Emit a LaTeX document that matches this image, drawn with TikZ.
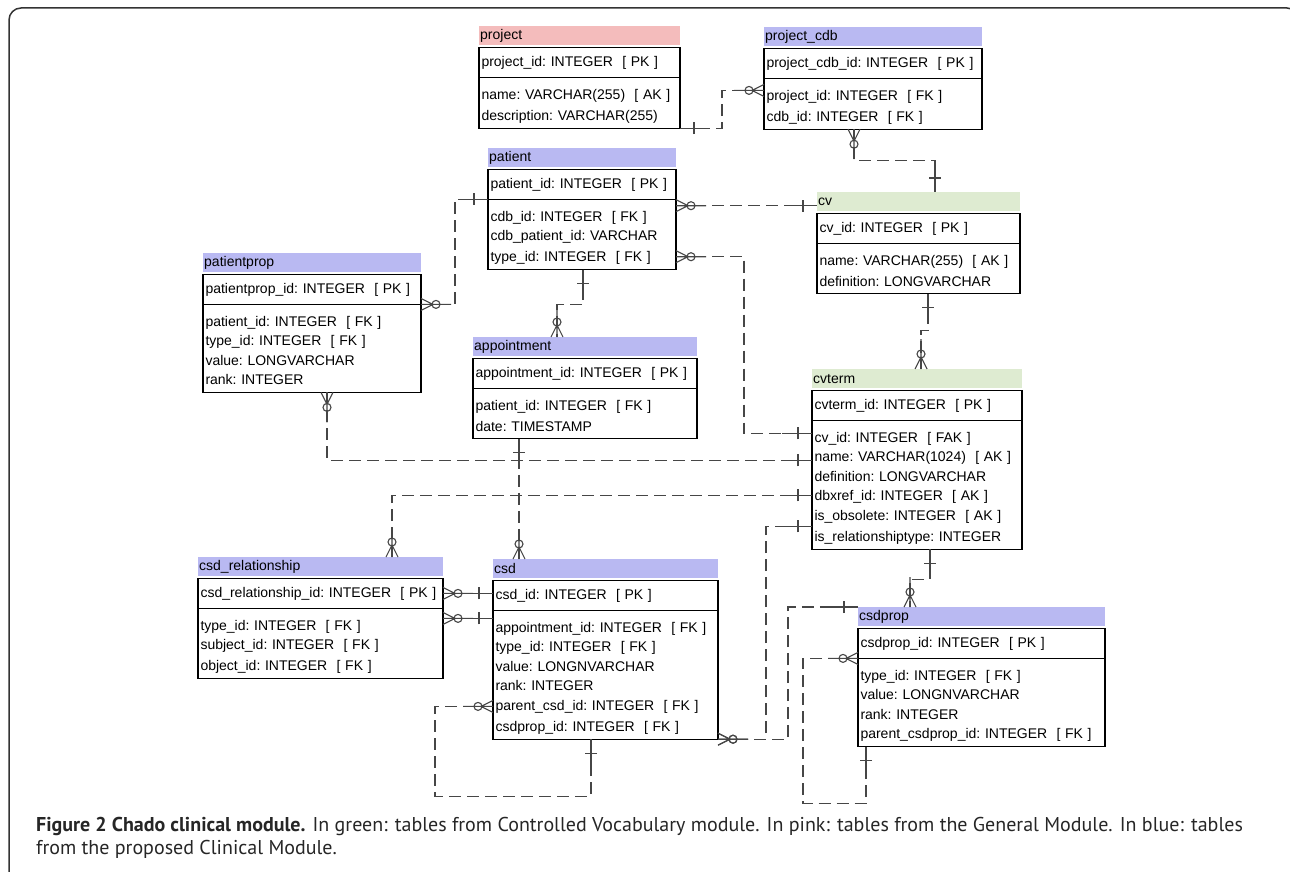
\documentclass[tikz,border=0pt]{standalone}
\usepackage{fontspec}
\usetikzlibrary{positioning,decorations.markings}
\newfontfamily\tabfont{Liberation Sans}
\newfontfamily\capfont{PT Sans}
\definecolor{tabpink}{RGB}{244,188,188}
\definecolor{tabblue}{RGB}{185,185,242}
\definecolor{tabgreen}{RGB}{222,235,209}
\definecolor{relgray}{RGB}{70,70,70}
\newcommand{\rstrut}{\rule[-2.5pt]{0pt}{19.5pt}}
\newcommand{\kPK}{\ \ [ PK ]}
\newcommand{\kFK}{\ \ [ FK ]}
\newcommand{\kAK}{\ \ [ AK ]}
\newcommand{\kFAK}{\ \ [ FAK ]}

\begin{document}
\begin{tikzpicture}[x=1pt, y=-1pt,
    every node/.style={font=\tabfont\frenchspacing\fontsize{14}{19.5}\selectfont},
    hdr/.style={anchor=north west, minimum height=19pt, inner xsep=1pt, inner ysep=0pt, align=left},
    pk/.style={draw, line width=1.1pt, anchor=north west, outer sep=0pt, minimum height=30pt, inner xsep=2.5pt, inner ysep=0pt, align=left},
    body/.style={draw, line width=1.1pt, anchor=north west, outer sep=0pt, inner xsep=2.5pt, inner ysep=5pt, align=left,
      execute at begin node=\rstrut, execute at end node=\rstrut},
    rel/.style={draw=relgray, line width=1.1pt, dash pattern=on 12pt off 6pt},
    onefrom/.style={postaction={decorate, decoration={markings, mark=at position 0 with
      {\draw[solid, line width=1.1pt, relgray] (0pt,0pt) -- (30pt,0pt) (14pt,-6pt) -- (14pt,6pt);}}}},
    manyfrom/.style={postaction={decorate, decoration={markings, mark=at position 0 with
      {\draw[solid, line width=1.1pt, relgray] (0pt,0pt) -- (30pt,0pt) (0pt,-6pt) -- (12pt,0pt) -- (0pt,6pt) (15pt,0pt) circle[radius=4pt];}}}},
    oneto/.style={postaction={decorate, decoration={markings, mark=at position 1 with
      {\draw[solid, line width=1.1pt, relgray] (-30pt,0pt) -- (0pt,0pt) (-14pt,-6pt) -- (-14pt,6pt);}}}},
    manyto/.style={postaction={decorate, decoration={markings, mark=at position 1 with
      {\draw[solid, line width=1.1pt, relgray] (-30pt,0pt) -- (0pt,0pt) (0pt,-6pt) -- (-12pt,0pt) -- (0pt,6pt) (-15pt,0pt) circle[radius=4pt];}}}}]

  \useasboundingbox (0,0) rectangle (1290,872);
  \draw[line width=1.5pt, black!80, rounded corners=12pt] (9,8) rectangle (1299,900);

  % project (general module)
  \node[hdr, fill=tabpink, text width=199pt] (project-h) at (479,26) {project};
  \node[pk, text width=196pt] (project-pk) at ([yshift=-2pt]project-h.south west) {project\_id: INTEGER\kPK};
  \node[body, text width=196pt] (project-b) at (project-pk.south west) {name: VARCHAR(255)\kAK\\description: VARCHAR(255)};

  % project_cdb
  \node[hdr, fill=tabblue, text width=216pt] (pcdb-h) at (764,27) {project\_cdb};
  \node[pk, text width=213pt] (pcdb-pk) at ([yshift=-2pt]pcdb-h.south west) {project\_cdb\_id: INTEGER\kPK};
  \node[body, text width=213pt] (pcdb-b) at (pcdb-pk.south west) {project\_id: INTEGER\kFK\\cdb\_id: INTEGER\kFK};

  % patient
  \node[hdr, fill=tabblue, text width=186pt] (patient-h) at (488,148) {patient};
  \node[pk, text width=183pt] (patient-pk) at ([yshift=-2pt]patient-h.south west) {patient\_id: INTEGER\kPK};
  \node[body, text width=183pt] (patient-b) at (patient-pk.south west) {cdb\_id: INTEGER\kFK\\cdb\_patient\_id: VARCHAR\\type\_id: INTEGER\kFK};

  % cv (controlled vocabulary)
  \node[hdr, fill=tabgreen, text width=201pt] (cv-h) at (817,192) {cv};
  \node[pk, text width=198pt] (cv-pk) at ([yshift=-2pt]cv-h.south west) {cv\_id: INTEGER\kPK};
  \node[body, text width=198pt] (cv-b) at (cv-pk.south west) {name: VARCHAR(255)\kAK\\definition: LONGVARCHAR};

  % patientprop
  \node[hdr, fill=tabblue, text width=216pt] (pprop-h) at (203,253) {patientprop};
  \node[pk, text width=213pt] (pprop-pk) at ([yshift=-2pt]pprop-h.south west) {patientprop\_id: INTEGER\kPK};
  \node[body, text width=213pt] (pprop-b) at (pprop-pk.south west) {patient\_id: INTEGER\kFK\\type\_id: INTEGER\kFK\\value: LONGVARCHAR\\rank: INTEGER};

  % appointment
  \node[hdr, fill=tabblue, text width=222pt] (appt-h) at (473,337) {appointment};
  \node[pk, text width=219pt] (appt-pk) at ([yshift=-2pt]appt-h.south west) {appointment\_id: INTEGER\kPK};
  \node[body, text width=219pt] (appt-b) at (appt-pk.south west) {patient\_id: INTEGER\kFK\\date: TIMESTAMP};

  % cvterm
  \node[hdr, fill=tabgreen, text width=208pt] (cvterm-h) at (812,369) {cvterm};
  \node[pk, text width=205pt] (cvterm-pk) at ([yshift=-2pt]cvterm-h.south west) {cvterm\_id: INTEGER\kPK};
  \node[body, text width=205pt] (cvterm-b) at (cvterm-pk.south west) {cv\_id: INTEGER\kFAK\\name: VARCHAR(1024)\kAK\\definition: LONGVARCHAR\\dbxref\_id: INTEGER\kAK\\is\_obsolete: INTEGER\kAK\\is\_relationshiptype: INTEGER};

  % csd_relationship
  \node[hdr, fill=tabblue, text width=243pt] (csdrel-h) at (198,557) {csd\_relationship};
  \node[pk, text width=240pt] (csdrel-pk) at ([yshift=-2pt]csdrel-h.south west) {csd\_relationship\_id: INTEGER\kPK};
  \node[body, text width=240pt] (csdrel-b) at (csdrel-pk.south west) {type\_id: INTEGER\kFK\\subject\_id: INTEGER\kFK\\object\_id: INTEGER\kFK};

  % csd
  \node[hdr, fill=tabblue, text width=223pt] (csd-h) at (493,559) {csd};
  \node[pk, text width=220pt] (csd-pk) at ([yshift=-2pt]csd-h.south west) {csd\_id: INTEGER\kPK};
  \node[body, text width=220pt] (csd-b) at (csd-pk.south west) {appointment\_id: INTEGER\kFK\\type\_id: INTEGER\kFK\\value: LONGNVARCHAR\\rank: INTEGER\\parent\_csd\_id: INTEGER\kFK\\csdprop\_id: INTEGER\kFK};

  % csdprop
  \node[hdr, fill=tabblue, text width=245pt] (csdprop-h) at (858,607) {csdprop};
  \node[pk, text width=242pt] (csdprop-pk) at ([yshift=-2pt]csdprop-h.south west) {csdprop\_id: INTEGER\kPK};
  \node[body, text width=242pt] (csdprop-b) at (csdprop-pk.south west) {type\_id: INTEGER\kFK\\value: LONGNVARCHAR\\rank: INTEGER\\parent\_csdprop\_id: INTEGER\kFK};

  \coordinate (cvin) at ([yshift=-4pt]cv-h.west);
  \coordinate (csdrel-obj) at ([yshift=-10pt]csdrel-b.north east);

  % relationships
  \draw[rel, onefrom, manyto] (project-b.south east) -- ++(42,0) |- ([yshift=-12pt]pcdb-b.north west);
  \draw[rel, manyfrom, oneto] ([xshift=90pt]pcdb-b.south west) -- ++(0,31) -| ([xshift=118pt]cv-h.north west);
  \draw[rel, manyfrom, oneto] (patient-b.east |- cvin) -- (cvin);
  \draw[rel, manyfrom, oneto] ([yshift=13pt]patient-b.south east) -- ++(68,0) |- ([yshift=-13pt]cvterm-b.north west);
  \draw[rel, onefrom, manyto] (patient-pk.south west) -- ++(-33,0) |- (pprop-pk.south east);
  \draw[rel, onefrom, manyto] ([xshift=95pt]patient-b.south west) -- ++(0,35) -| ([xshift=84pt]appt-h.north west);
  \draw[rel, manyfrom, oneto] ([xshift=124pt]pprop-b.south west) |- ([yshift=-40pt]cvterm-b.north west);
  \draw[rel, onefrom, manyto] ([xshift=46pt]appt-b.south west) -- ([xshift=26pt]csd-h.north west);
  \draw[rel, manyfrom, oneto] ([xshift=194pt]csdrel-h.north west) |- ([yshift=-75pt]cvterm-b.north west);
  \draw[rel, manyfrom, oneto] (csd-b.south east) -- ++(48,0) |- ([yshift=-106pt]cvterm-b.north west);
  \draw[rel, manyfrom, oneto] (csd-b.south east) -- ++(70,0) |- (csdprop-h.north west);
  \draw[rel, onefrom, manyto] ([xshift=118pt]cvterm-b.south west) -- ++(0,30) -| ([xshift=52pt]csdprop-h.north west);
  \draw[rel, onefrom, manyto] ([xshift=111pt]cv-b.south west) -- ++(0,37) -| ([xshift=109pt]cvterm-h.north west);
  \draw[rel, manyfrom, oneto] ([yshift=-96pt]csd-b.north west) -- ++(-58,0) |- ([xshift=98pt,yshift=-57pt]csd-b.south west) -- ([xshift=98pt]csd-b.south west);
  \draw[rel, manyfrom, oneto] (csdprop-pk.south west) -- ++(-55,0) |- ([xshift=8pt,yshift=-57pt]csdprop-b.south west) -- ([xshift=8pt]csdprop-b.south west);
  \draw[rel, manyfrom, oneto] (csdrel-pk.east) -- (csdrel-pk.east -| csd-b.west);
  \draw[rel, manyfrom, oneto] (csdrel-obj) -- (csdrel-obj -| csd-b.west);

  % caption
  \node[anchor=north west, align=left, inner sep=0pt, text=black!85, font=\capfont\fontsize{20}{23}\selectfont] (caption) at (36,817)
    {\textbf{Figure 2 Chado clinical module.} In green: tables from Controlled Vocabulary module. In pink: tables from the General Module. In blue: tables\\from the proposed Clinical Module.};
\end{tikzpicture}
\end{document}
